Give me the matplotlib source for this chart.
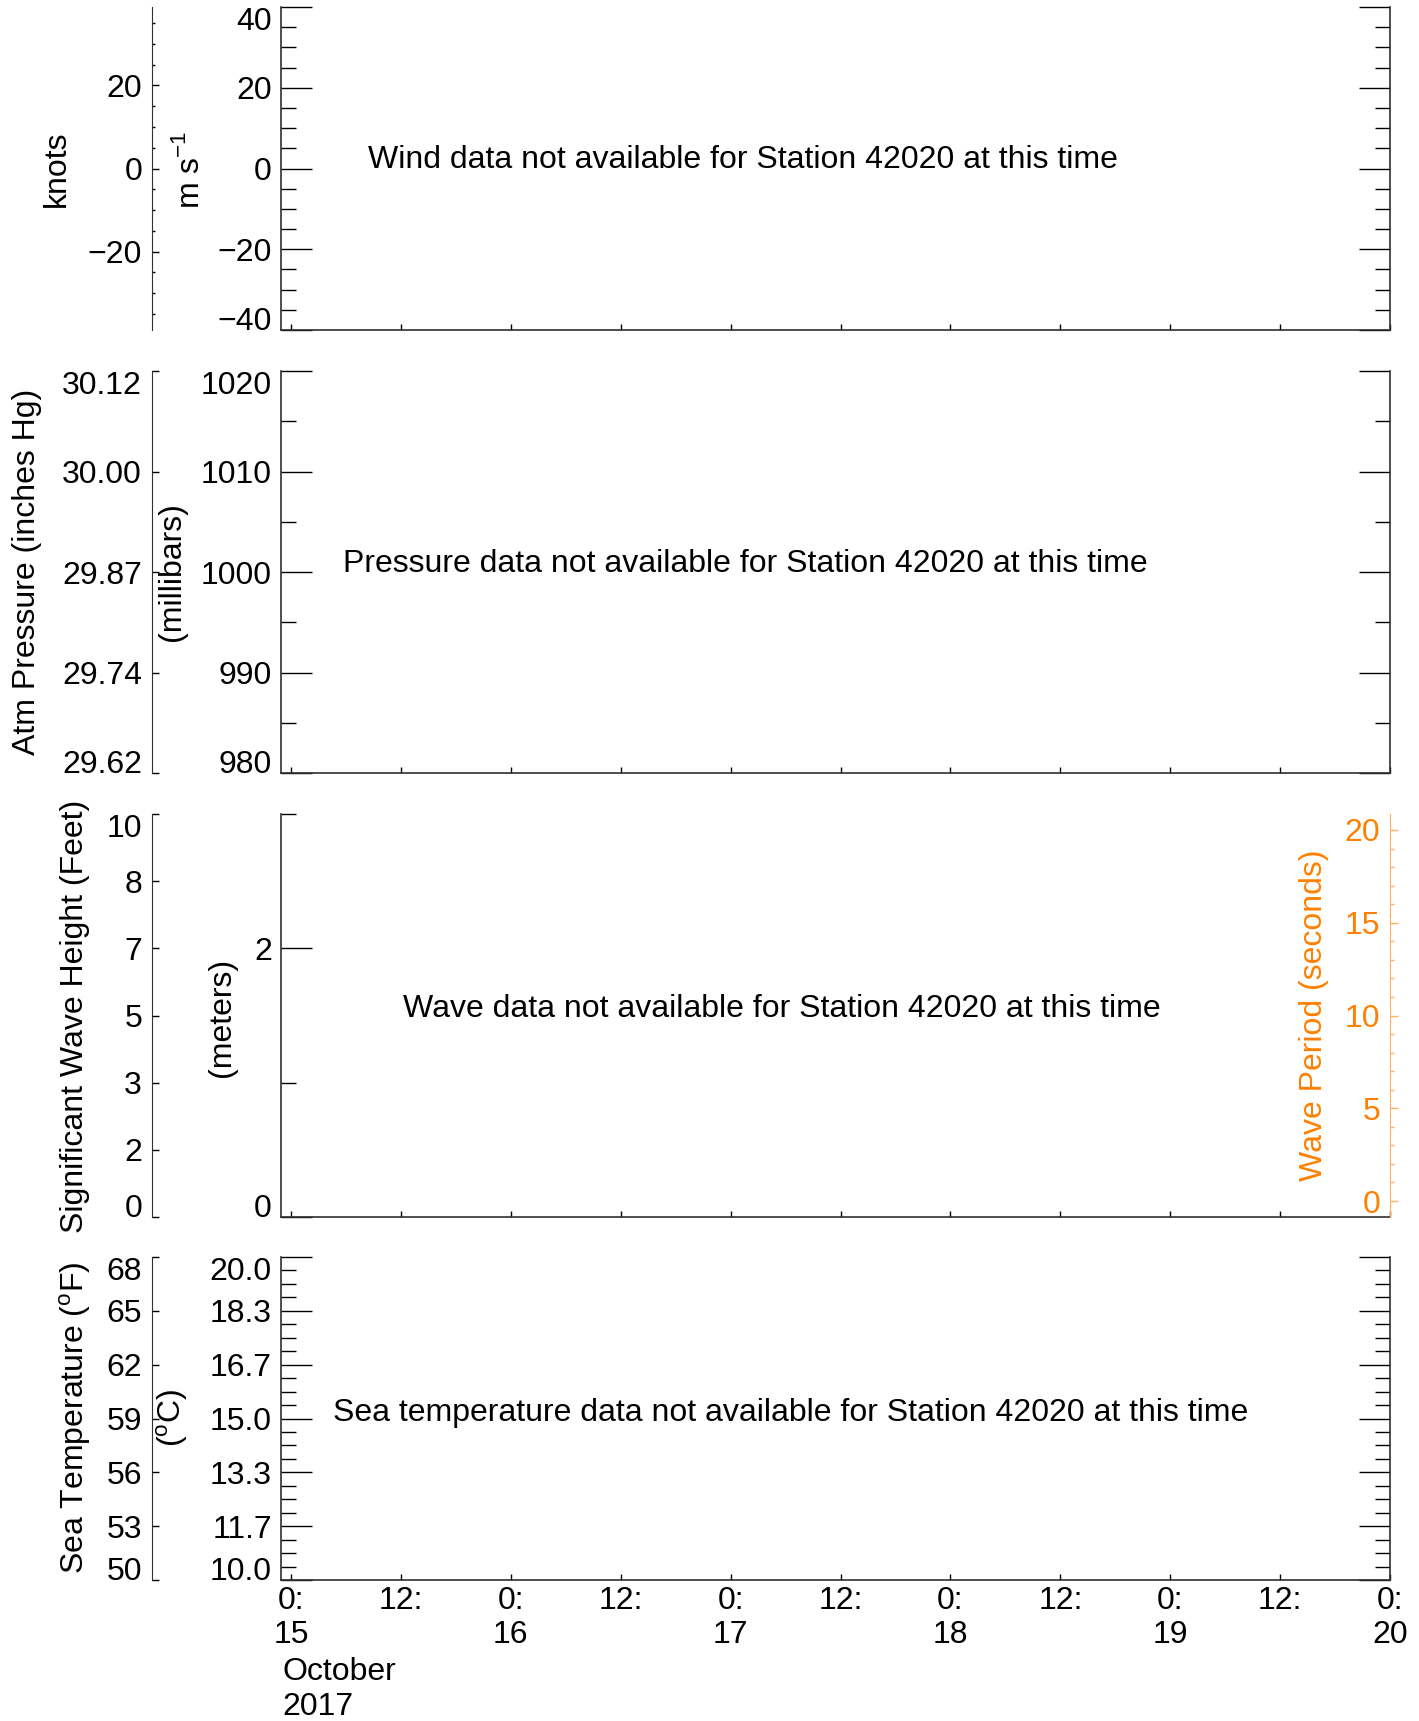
import matplotlib
matplotlib.use('Agg')
import matplotlib.pyplot as plt
from matplotlib.ticker import FixedLocator, MultipleLocator

plt.rcParams['font.family'] = ['Liberation Sans', 'DejaVu Sans']
plt.rcParams['mathtext.fontset'] = 'custom'
plt.rcParams['mathtext.rm'] = 'Liberation Sans'
plt.rcParams['font.size'] = 23

W, H = 1419, 1721
ORANGE = '#ff8000'
SPINE = '#303030'

# time axis, hours from 0:00 15 October 2017
x_ticks = [0, 12, 24, 36, 48, 60, 72, 84, 96, 108, 120]
x_labels = ['0:\n15', '12:', '0:\n16', '12:', '0:\n17', '12:',
            '0:\n18', '12:', '0:\n19', '12:', '0:\n20']
x_range = (-1.1, 120)
month_label = 'October\n2017'

# wind
wind_ms_ticks = [-40, -20, 0, 20, 40]
wind_ms_range = (-40, 40)
knots_ticks = [-20, 0, 20]
knots_range = (-38.9, 38.9)

# pressure
pres_mb_ticks = [980, 990, 1000, 1010, 1020]
pres_inhg_labels = ['29.62', '29.74', '29.87', '30.00', '30.12']

# waves
wave_m_ticks = [0, 2]
wave_m_minor = [1, 3]
wave_m_range = (0, 3)
wave_ft_pos = [0, 0.5, 1, 1.5, 2, 2.5, 3]
wave_ft_labels = ['0', '2', '3', '5', '7', '8', '10']
period_ticks = [0, 5, 10, 15, 20]
period_range = (-0.86, 20.86)

# sea temperature
temp_f_ticks = [50, 53, 56, 59, 62, 65, 68]
temp_c_ticks = [(f - 32) * 5 / 9 for f in temp_f_ticks]
temp_c_labels = ['%.1f' % c for c in temp_c_ticks]

messages = ['Wind data not available for Station 42020 at this time',
            'Pressure data not available for Station 42020 at this time',
            'Wave data not available for Station 42020 at this time',
            'Sea temperature data not available for Station 42020 at this time']


def fx(px):
    return px / W


def fy(py):
    return 1 - py / H


def num(v):
    return str(v).replace('-', '\u2212')


def main_axes(top, bottom):
    ax = fig.add_axes([fx(281), fy(bottom), fx(1390 - 281), (bottom - top) / H])
    ax.set_xlim(*x_range)
    ax.xaxis.set_major_locator(FixedLocator(x_ticks))
    ax.spines['top'].set_visible(False)
    for s in ['left', 'right', 'bottom']:
        ax.spines[s].set_color(SPINE)
        ax.spines[s].set_linewidth(1.2)
    ax.tick_params(axis='x', direction='in', length=4, width=1, top=False, labelbottom=False)
    return ax


def finish_y(ax, right=True):
    ax.tick_params(axis='y', which='both', direction='in', left=True, right=right, pad=6.5)
    ax.tick_params(axis='y', which='major', length=22, width=1)
    ax.tick_params(axis='y', which='minor', length=11, width=1)


def side_axis(ax, ylim, ticks, labels=None, minor=None):
    a2 = ax.twinx()
    a2.set_ylim(*ylim)
    for s in ['top', 'right', 'bottom']:
        a2.spines[s].set_visible(False)
    a2.spines['left'].set_visible(True)
    a2.spines['left'].set_position(('axes', (152 - 281) / (1390 - 281)))
    a2.spines['left'].set_color(SPINE)
    a2.yaxis.set_ticks_position('left')
    a2.set_yticks(ticks, labels if labels is not None else [num(t) for t in ticks])
    if minor is not None:
        a2.yaxis.set_minor_locator(minor)
    a2.tick_params(axis='y', which='major', direction='in', length=5, width=1, pad=7.2)
    a2.tick_params(axis='y', which='minor', direction='in', length=2.5, width=1)
    return a2


def shift_ends(axis, low=True, high=True):
    # end labels sit inside the axis range
    ticks = axis.get_major_ticks()
    if low:
        ticks[0].label1.set_va('baseline')
    if high:
        ticks[-1].label1.set_va('top')


def vlabel(x, y, s, color='black'):
    fig.text(fx(x), fy(y), s, rotation=90, ha='center', va='center', color=color)


fig = plt.figure(figsize=(W / 100, H / 100), dpi=100)

# ---- wind
ax1 = main_axes(7, 330)
ax1.set_ylim(*wind_ms_range)
ax1.set_yticks(wind_ms_ticks, [num(t) for t in wind_ms_ticks])
ax1.yaxis.set_minor_locator(MultipleLocator(5))
k1 = side_axis(ax1, knots_range, knots_ticks, minor=MultipleLocator(5))
finish_y(ax1)
shift_ends(ax1.yaxis)
vlabel(57, 169, 'knots')
vlabel(190, 170, 'm s$^{-1}$')

# ---- pressure
ax2 = main_axes(371, 773)
ax2.set_ylim(pres_mb_ticks[0], pres_mb_ticks[-1])
ax2.set_yticks(pres_mb_ticks)
ax2.yaxis.set_minor_locator(MultipleLocator(5))
p2 = side_axis(ax2, (pres_mb_ticks[0], pres_mb_ticks[-1]), pres_mb_ticks, pres_inhg_labels)
finish_y(ax2)
shift_ends(ax2.yaxis)
shift_ends(p2.yaxis)
vlabel(27, 572, 'Atm Pressure (inches Hg)')
vlabel(172, 572, '(millibars)')

# ---- waves
ax3 = main_axes(814, 1217)
ax3.set_ylim(*wave_m_range)
ax3.set_yticks(wave_m_ticks)
ax3.yaxis.set_minor_locator(FixedLocator(wave_m_minor))
shift_ends(ax3.yaxis, high=False)
w3 = side_axis(ax3, wave_m_range, wave_ft_pos, wave_ft_labels)
shift_ends(w3.yaxis)
per = ax3.twinx()
per.set_ylim(*period_range)
for s in ['top', 'right', 'bottom']:
    per.spines[s].set_visible(False)
per.spines['left'].set_visible(True)
per.spines['left'].set_position(('axes', 1.0))
per.spines['left'].set_color('#ffb264')
per.yaxis.set_ticks_position('left')
per.set_yticks(period_ticks)
per.yaxis.set_minor_locator(MultipleLocator(1))
per.tick_params(axis='y', which='both', direction='in', colors=ORANGE, labelcolor=ORANGE, pad=7.2)
per.tick_params(axis='y', which='major', length=6, width=1, color='#ffb264')
per.tick_params(axis='y', which='minor', length=3, width=1, color='#ffb264')
ax3.spines['right'].set_visible(False)
finish_y(ax3, right=False)
vlabel(75, 1016, 'Significant Wave Height (Feet)')
vlabel(222, 1017, '(meters)')
vlabel(1314, 1015, 'Wave Period (seconds)', color=ORANGE)

# ---- sea temperature
ax4 = main_axes(1257, 1580)
ax4.set_ylim(temp_c_ticks[0], temp_c_ticks[-1])
ax4.set_yticks(temp_c_ticks, temp_c_labels)
ax4.yaxis.set_minor_locator(MultipleLocator((temp_c_ticks[1] - temp_c_ticks[0]) / 4))
t4 = side_axis(ax4, (temp_f_ticks[0], temp_f_ticks[-1]), temp_f_ticks)
finish_y(ax4)
shift_ends(ax4.yaxis)
shift_ends(t4.yaxis)
vlabel(75, 1418, 'Sea Temperature ($^{\\rm o}$F)')
vlabel(172, 1418, '($^{\\rm o}$C)')

ax4.set_xticks(x_ticks, x_labels, linespacing=1.2)
ax4.tick_params(axis='x', labelbottom=True, pad=4)
fig.text(fx(282), fy(1657), month_label, ha='left', va='top', linespacing=1.2)

# messages
msg_pos = [(ax1, 368, 160, 7, 330), (ax2, 343, 564, 371, 773),
           (ax3, 403, 1009, 814, 1217), (ax4, 333, 1413, 1257, 1580)]
for (ax, x, y, top, bottom), msg in zip(msg_pos, messages):
    ax.text((x - 281) / (1390 - 281), (bottom - y) / (bottom - top), msg,
            transform=ax.transAxes, ha='left', va='center')

fig.savefig('out.png', dpi=100)
